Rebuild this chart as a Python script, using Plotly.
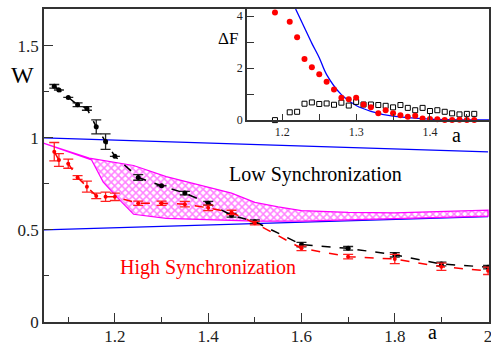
import plotly.graph_objects as go

# ---- main panel data ----
a_black = [1.07, 1.08, 1.10, 1.12, 1.14, 1.16, 1.18, 1.20, 1.25, 1.30, 1.35, 1.40, 1.45, 1.50, 1.60, 1.70, 1.80, 1.90, 2.00]
w_black = [1.28, 1.26, 1.22, 1.18, 1.16, 1.06, 0.98, 0.90, 0.785, 0.74, 0.70, 0.645, 0.58, 0.545, 0.42, 0.40, 0.365, 0.315, 0.298]
e_black = [0.01, 0.0, 0.0, 0.01, 0.01, 0.038, 0.042, 0.0, 0.015, 0.0, 0.01, 0.01, 0.01, 0.01, 0.012, 0.01, 0.012, 0.01, 0.01]

a_red = [1.07, 1.08, 1.10, 1.12, 1.14, 1.16, 1.18, 1.20, 1.25, 1.30, 1.35, 1.40, 1.45, 1.50, 1.60, 1.70, 1.80, 1.90, 2.00]
w_red = [0.925, 0.88, 0.86, 0.785, 0.735, 0.685, 0.68, 0.68, 0.645, 0.645, 0.64, 0.62, 0.595, 0.537, 0.40, 0.355, 0.342, 0.30, 0.278]
e_red = [0.05, 0.035, 0.025, 0.01, 0.03, 0.015, 0.025, 0.02, 0.012, 0.012, 0.015, 0.015, 0.012, 0.01, 0.012, 0.012, 0.025, 0.02, 0.02]

band_upper_a = [1.048, 1.145, 1.24, 1.31, 1.38, 1.45, 1.50, 1.55, 1.60, 1.70, 1.80, 1.90, 2.00]
band_upper_w = [0.97, 0.89, 0.85, 0.79, 0.745, 0.70, 0.65, 0.625, 0.605, 0.595, 0.593, 0.598, 0.607]
band_lower_a = [1.048, 1.15, 1.175, 1.213, 1.24, 1.31, 1.41, 1.50, 1.60, 1.80, 2.00]
band_lower_w = [0.97, 0.88, 0.76, 0.655, 0.585, 0.563, 0.554, 0.548, 0.548, 0.562, 0.575]

blue_a = [1.048, 2.0]
blue_upper_w = [1.0, 0.924]
blue_lower_w = [0.5, 0.572]

# ---- inset data ----
a_inset = [1.19, 1.21, 1.22, 1.23, 1.24, 1.25, 1.26, 1.27, 1.28, 1.29, 1.30, 1.31, 1.32, 1.33,
           1.34, 1.35, 1.36, 1.37, 1.38, 1.39, 1.40, 1.41, 1.42, 1.43, 1.44, 1.45, 1.46]
dF_red = [4.14, 3.78, 3.18, 2.35, 2.03, 1.76, 1.47, 1.18, 0.86, 0.80, 0.86, 0.60, 0.49, 0.26,
          0.38, 0.26, 0.19, 0.13, 0.17, 0.06, 0.04, 0.03, 0.0, 0.0, 0.01, 0.0, 0.0]
dF_sq = [0.0, 0.30, 0.32, 0.63, 0.68, 0.62, 0.64, 0.59, 0.67, 0.56, 0.70, 0.60, 0.60, 0.58,
         0.55, 0.49, 0.58, 0.47, 0.38, 0.47, 0.35, 0.38, 0.32, 0.26, 0.22, 0.24, 0.24]
fit_a = [1.218, 1.23, 1.24, 1.25, 1.26, 1.28, 1.30, 1.32, 1.35, 1.40, 1.48]
fit_dF = [4.27, 3.55, 2.95, 2.4, 1.75, 0.98, 0.56, 0.34, 0.15, 0.04, 0.01]

SERIF = "Liberation Serif, Times New Roman, Times, DejaVu Serif, serif"

fig = go.Figure()

# blue boundary lines
fig.add_trace(go.Scatter(x=blue_a, y=blue_upper_w, mode="lines",
                         line=dict(color="#0000ff", width=1.3), showlegend=False))
fig.add_trace(go.Scatter(x=blue_a, y=blue_lower_w, mode="lines",
                         line=dict(color="#0000ff", width=1.3), showlegend=False))

# hatched band
fig.add_trace(go.Scatter(x=band_upper_a + band_lower_a[::-1],
                         y=band_upper_w + band_lower_w[::-1],
                         mode="lines", fill="toself",
                         line=dict(color="#ff00ff", width=1.2),
                         fillcolor="rgba(255,255,255,0)",
                         fillpattern=dict(shape="x", fgcolor="#ff00ff", bgcolor="white",
                                          size=5, solidity=0.5),
                         showlegend=False))

# black series
fig.add_trace(go.Scatter(x=a_black, y=w_black, mode="lines+markers",
                         line=dict(color="black", width=1.5, dash="dash"),
                         marker=dict(color="black", size=5),
                         error_y=dict(type="data", array=e_black, color="#222222",
                                      thickness=1.3, width=5),
                         showlegend=False, cliponaxis=False))
# red series
fig.add_trace(go.Scatter(x=a_red, y=w_red, mode="lines+markers",
                         line=dict(color="#ff0000", width=1.5, dash="dash"),
                         marker=dict(color="#ff0000", size=4),
                         error_y=dict(type="data", array=e_red, color="#ff2020",
                                      thickness=1.3, width=5),
                         showlegend=False, cliponaxis=False))

# inset traces
fig.add_trace(go.Scatter(x=fit_a, y=fit_dF, mode="lines", line_shape="spline",
                         line=dict(color="#0000ff", width=1.3),
                         xaxis="x2", yaxis="y2", showlegend=False))
fig.add_trace(go.Scatter(x=a_inset, y=dF_sq, mode="markers",
                         marker=dict(symbol="square-open", color="black", size=5,
                                     line=dict(width=1)),
                         xaxis="x2", yaxis="y2", showlegend=False, cliponaxis=False))
fig.add_trace(go.Scatter(x=a_inset, y=dF_red, mode="markers",
                         marker=dict(color="#ff0000", size=6),
                         xaxis="x2", yaxis="y2", showlegend=False, cliponaxis=False))

axis_common = dict(showgrid=False, zeroline=False, showline=True, mirror=True,
                   linecolor="#333333", linewidth=1.5, ticks="inside", automargin=False,
                   ticklabeloverflow="allow",
                   tickcolor="#333333", tickfont=dict(family=SERIF, size=17, color="#222222"))

fig.update_layout(
    width=491, height=347,
    margin=dict(l=44, r=2, t=9, b=25, autoexpand=False),
    paper_bgcolor="white", plot_bgcolor="white",
    font=dict(family=SERIF),
    xaxis=dict(range=[1.048, 2.002], domain=[0, 1],
               tickvals=[1.2, 1.4, 1.6, 1.8, 2.0], ticktext=["1.2", "1.4", "1.6", "1.8", "2"],
               ticklen=9, tickwidth=1.3, ticklabelstandoff=-2,
               minor=dict(tickvals=[1.1, 1.3, 1.5, 1.7, 1.9], ticklen=5, ticks="inside",
                          tickcolor="#333333"),
               **axis_common),
    yaxis=dict(range=[0, 1.7], domain=[0, 1],
               tickvals=[0, 0.5, 1.0, 1.5], ticktext=["0", "0.5", "1", "1.5"],
               ticklen=9, tickwidth=1.3,
               minor=dict(tickvals=[0.25, 0.75, 1.25], ticklen=5, ticks="inside",
                          tickcolor="#333333"),
               **axis_common),
    xaxis2=dict(range=[1.152, 1.48], domain=[0.456, 1.0], anchor="y2",
                tickvals=[1.2, 1.3, 1.4], ticktext=["1.2", "1.3", "1.4"],
                ticklen=6, tickwidth=1.2, automargin=False,
                minor=dict(tickvals=[1.25, 1.35, 1.45], ticklen=6, ticks="inside",
                           tickcolor="#333333"),
                showgrid=False, zeroline=False, showline=True, mirror=True,
                linecolor="#333333", linewidth=1.5, ticks="inside", tickcolor="#333333",
                tickfont=dict(family=SERIF, size=12, color="#222222")),
    yaxis2=dict(range=[0, 4.27], domain=[0.645, 1.0], anchor="x2",
                tickvals=[0, 2, 4], ticktext=["0", "2", "4"],
                ticklen=7, tickwidth=1.2, automargin=False,
                minor=dict(tickvals=[1, 3], ticklen=7, ticks="inside", tickcolor="#333333"),
                showgrid=False, zeroline=False, showline=True, mirror=True,
                linecolor="#333333", linewidth=1.5, ticks="inside", tickcolor="#333333",
                tickfont=dict(family=SERIF, size=12, color="#222222")),
)

# white background for inset
fig.add_shape(type="rect", xref="paper", yref="paper", x0=0.456, x1=1.0, y0=0.645, y1=1.0,
              fillcolor="white", line=dict(width=0), layer="below")

def ann(text, x, y, size, color="black", yanchor="middle"):
    fig.add_annotation(text=text, xref="paper", yref="paper", x=x, y=y,
                       showarrow=False, xanchor="center", yanchor=yanchor,
                       font=dict(family=SERIF, size=size, color=color))

ann("W", -0.049, 0.789, 24)
ann("a", 0.874, -0.074, 20, yanchor="bottom")
ann("Low Synchronization", 0.609, 0.470, 20)
ann("High Synchronization", 0.369, 0.173, 20, "#ff0000")
ann("ΔF", 0.414, 0.905, 17)
ann("a", (456 - 44) / 445, (322 - 135) / 313, 20)

fig.write_html("out.html", config={"displayModeBar": False},
               post_script="document.body.style.margin='0';document.body.style.overflow='hidden';")
